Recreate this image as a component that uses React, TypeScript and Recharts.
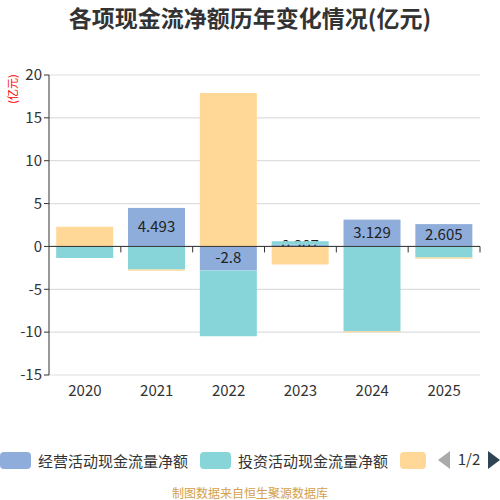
import React from 'react';
import {
  BarChart,
  Bar,
  XAxis,
  YAxis,
  CartesianGrid,
  ReferenceLine
} from 'recharts';

const years = ['2020', '2021', '2022', '2023', '2024', '2025'];
const operating = [0.053, 4.493, -2.8, 0.207, 3.129, 2.605];
const investing = [-1.35, -2.7, -7.67, 0.41, -9.9, -1.3];
const financing = [2.25, -0.15, 17.9, -2.1, -0.12, -0.15];
const yTicks = [-15, -10, -5, 0, 5, 10, 15, 20];

const seriesNames = ['经营活动现金流量净额', '投资活动现金流量净额', '筹资活动现金流量净额'];
const colors = ['#8EADDB', '#87D5D8', '#FFD898'];

const FONT = "'Noto Sans CJK SC', 'Noto Sans', sans-serif";

// layout of the plot area
const W = 500;
const H = 500;
const TOP = 75;
const BOTTOM = 375;
const LEFT = 49;
const RIGHT = 480;
const Y_MIN = -15;
const Y_MAX = 20;

const data = years.map((year, i) => ({
  year,
  operating: operating[i],
  investing: investing[i],
  financing: financing[i]
}));

const zeroY = TOP + ((BOTTOM - TOP) * Y_MAX) / (Y_MAX - Y_MIN);
const band = (RIGHT - LEFT) / years.length;

const XTick = (props: any) => {
  const { x, payload, index } = props;
  const left = x - band / 2;
  return (
    <g>
      <text x={x} y={BOTTOM + 21} textAnchor="middle" fontSize={15} fill="#333" fontFamily={FONT}>
        {payload.value}
      </text>
      {index > 0 && <line x1={left} x2={left} y1={zeroY} y2={zeroY + 6} stroke="#333" />}
      {index === years.length - 1 && (
        <line x1={x + band / 2} x2={x + band / 2} y1={zeroY} y2={zeroY + 6} stroke="#333" />
      )}
    </g>
  );
};

// bar with its value label drawn in the same layer, so later series cover it
const LabeledBar = (props: any) => {
  const { x, y, width, height, fill, payload } = props;
  const top = height < 0 ? y + height : y;
  const h = Math.abs(height);
  return (
    <g>
      <rect x={x} y={top} width={width} height={h} fill={fill} />
      <text
        x={x + width / 2}
        y={top + h / 2}
        dy={5}
        textAnchor="middle"
        fontSize={15}
        fill="#222"
        fontFamily={FONT}
      >
        {payload.operating}
      </text>
    </g>
  );
};

const Swatch = ({ color, width = 31 }: { color: string; width?: number }) => (
  <span
    style={{
      display: 'inline-block',
      width,
      height: 17,
      background: color,
      borderRadius: 4,
      verticalAlign: 'middle'
    }}
  />
);

const App: React.FC = () => {
  return (
    <div style={{ position: 'absolute', left: 0, top: 0, width: W, height: H, overflow: 'hidden', fontFamily: FONT }}>
      <div
        style={{
          position: 'absolute',
          top: 0,
          width: W,
          textAlign: 'center',
          fontSize: 23,
          fontWeight: 'bold',
          color: '#333'
        }}
      >
        各项现金流净额历年变化情况(亿元)
      </div>
      <div
        style={{
          position: 'absolute',
          left: -6,
          top: 83,
          width: 36,
          textAlign: 'center',
          fontSize: 11,
          lineHeight: '12px',
          color: '#f00',
          transform: 'rotate(-90deg)'
        }}
      >
        (亿元)
      </div>

      <BarChart
        width={W}
        height={H}
        data={data}
        stackOffset="sign"
        barCategoryGap="10%"
        margin={{ top: TOP, right: W - RIGHT, left: 0, bottom: H - BOTTOM - 30 }}
      >
        <CartesianGrid horizontal vertical={false} stroke="#ddd" strokeWidth={1.2} />
        <XAxis
          dataKey="year"
          height={30}
          axisLine={false}
          tickLine={false}
          interval={0}
          tick={<XTick />}
        />
        <YAxis
          width={LEFT}
          domain={[Y_MIN, Y_MAX]}
          ticks={yTicks}
          interval={0}
          allowDataOverflow
          axisLine={{ stroke: '#333' }}
          tickLine={{ stroke: '#333' }}
          tickSize={5}
          tick={{ fontSize: 15, fill: '#333', fontFamily: FONT }}
        />
        <Bar
          dataKey="operating"
          stackId="a"
          fill={colors[0]}
          name={seriesNames[0]}
          shape={<LabeledBar />}
          isAnimationActive={false}
        />
        <Bar dataKey="investing" stackId="a" fill={colors[1]} name={seriesNames[1]} isAnimationActive={false} />
        <Bar dataKey="financing" stackId="a" fill={colors[2]} name={seriesNames[2]} isAnimationActive={false} />
        <ReferenceLine y={0} stroke="#333" strokeWidth={1} />
      </BarChart>

      <div
        style={{
          position: 'absolute',
          top: 448,
          left: 0,
          width: W,
          height: 24,
          fontSize: 15,
          color: '#333',
          whiteSpace: 'nowrap',
          lineHeight: '22px'
        }}
      >
        <span style={{ position: 'absolute', left: 0 }}>
          <Swatch color={colors[0]} />
          <span style={{ marginLeft: 7, verticalAlign: 'middle' }}>{seriesNames[0]}</span>
        </span>
        <span style={{ position: 'absolute', left: 200 }}>
          <Swatch color={colors[1]} />
          <span style={{ marginLeft: 7, verticalAlign: 'middle' }}>{seriesNames[1]}</span>
        </span>
        <span style={{ position: 'absolute', left: 400 }}>
          <Swatch color={colors[2]} width={26} />
        </span>
        <svg style={{ position: 'absolute', left: 436, top: 0 }} width={64} height={24}>
          <polygon points="14,3 14,21 2,12" fill="#aaa" />
          <text x={33} y={17} textAnchor="middle" fontSize={15} fill="#333" fontFamily={FONT}>
            1/2
          </text>
          <polygon points="52,3 52,21 64,12" fill="#2f4554" />
        </svg>
      </div>

      <div
        style={{
          position: 'absolute',
          top: 484,
          width: W,
          textAlign: 'center',
          fontSize: 12,
          color: '#d4a04a'
        }}
      >
        制图数据来自恒生聚源数据库
      </div>
    </div>
  );
};

export default App;
